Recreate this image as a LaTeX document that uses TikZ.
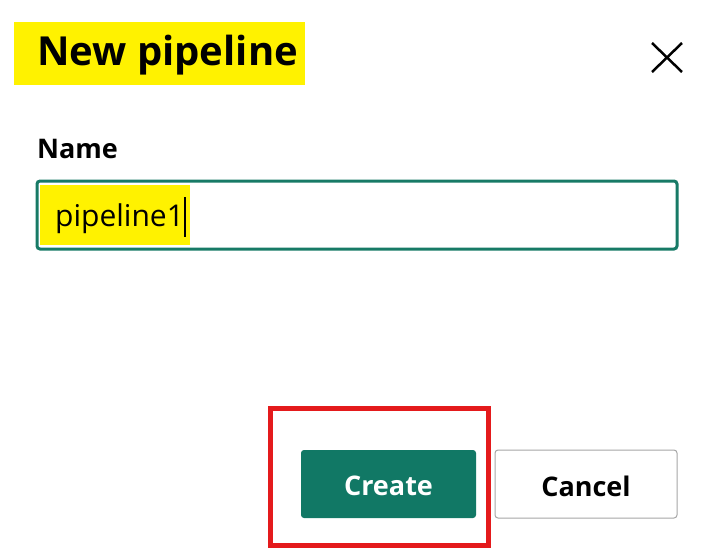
\documentclass[tikz,border=0pt]{standalone}
\usepackage{fontspec}
\setmainfont{Open Sans}
\begin{document}
\begin{tikzpicture}[x=1pt,y=-1pt,
  lbl/.style={anchor=base west, inner sep=0pt}]
\useasboundingbox (0,0) rectangle (716,552);
\fill[white] (0,0) rectangle (716,552);
\fill[yellow] (14,22) rectangle (305,85);
\node[lbl] (title) at (37,65) {\fontsize{40}{48}\selectfont\bfseries New pipeline};
\draw[line width=2.5pt] (652,43) -- (682,72) (682,43) -- (652,72);
\node[lbl] (name) at (37,158) {\fontsize{27}{32}\selectfont\bfseries Name};
\draw[draw={rgb,255:red,23;green,122;blue,102}, line width=3pt, rounded corners=3pt] (37,181) rectangle (677,249);
\fill[yellow] (40,185) rectangle (190,245);
\node[lbl] (input) at (55,226) {\fontsize{30}{34}\selectfont pipeline1};
\draw[line width=1.2pt] (185,197) -- (185,237);
\fill[fill={rgb,255:red,17;green,120;blue,101}, rounded corners=3pt] (301,450) rectangle (476,518);
\node[text=white] (create) at (388.5,486) {\fontsize{27}{30}\selectfont\bfseries Create};
\draw[draw=gray!70, line width=1pt, rounded corners=3pt] (495,450) rectangle (677,518);
\node (cancel) at (586,486) {\fontsize{27}{30}\selectfont\bfseries Cancel};
\draw[draw={rgb,255:red,228;green,26;blue,28}, line width=5pt] (270,408) rectangle (488,545);
\end{tikzpicture}
\end{document}
